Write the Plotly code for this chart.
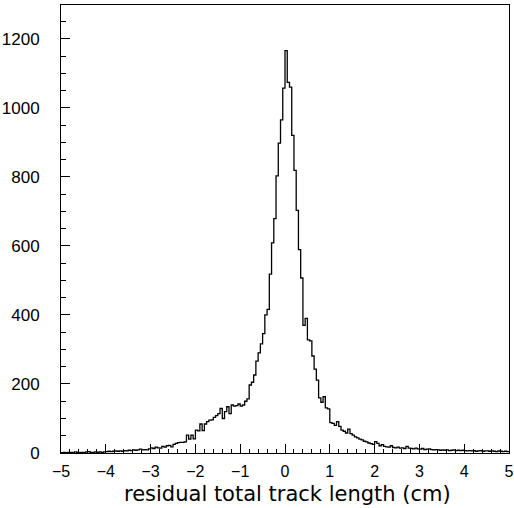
import numpy as np
import plotly.graph_objects as go

# Histogram: 200 bins of width 0.05 from -5 to 5
x_min = -5.0
bin_width = 0.05

counts_left_tail = [  # bins starting -5.00 ... -2.65
    1, 2, 1, 2, 2, 1, 3, 2, 1, 2,
    2, 3, 4, 2, 2, 3, 2, 3, 2, 3,
    4, 5, 4, 5, 6, 5, 6, 5, 7, 6,
    8, 7, 9, 8, 9, 11, 9, 10, 9, 12,
    15, 13, 17, 15, 14, 19, 17, 21,
]
counts_core = [  # bins starting -2.60 ... 0.95
    22, 18, 25, 28, 30, 31, 31, 32, 52, 40,
    52, 41, 66, 64, 84, 65, 84, 91, 95, 96,
    103, 108, 114, 129, 100, 120, 134, 114, 139, 136,
    137, 142, 136, 139, 150, 157,
    197, 205, 226, 266, 290, 316, 346, 400, 416, 518,
    609, 679, 803, 898, 965, 1057, 1166, 1074, 1060, 920,
    819, 703, 589, 507, 370, 390, 328, 325, 281, 243,
    211, 160, 147, 163, 131, 128,
]
counts_right_tail = [  # bins starting 1.00 ... 4.95
    88, 86, 80, 91, 77, 66, 63, 58, 69, 56,
    52, 47, 44, 40, 38, 34, 32, 29, 27, 25,
    33, 28, 21, 24, 19, 18, 17, 21, 16, 15,
    17, 14, 15, 13, 19, 14, 13, 12, 14, 12,
    11, 13, 10, 11, 12, 10, 9, 10, 9, 8,
    9, 8, 9, 7, 8, 9, 7, 8, 7, 8,
    7, 6, 7, 6, 7, 5, 6, 7, 5, 6,
    6, 5, 6, 5, 4, 6, 5, 4, 5, 4,
]
counts = counts_left_tail + counts_core + counts_right_tail

x_tick_vals = [-5, -4, -3, -2, -1, 0, 1, 2, 3, 4, 5]
x_tick_text = ["\u22125", "\u22124", "\u22123", "\u22122", "\u22121", "0", "1", "2", "3", "4", "5"]
y_tick_vals = [0, 200, 400, 600, 800, 1000, 1200]
x_title = "residual total track length (cm)"

edges = x_min + bin_width * np.arange(len(counts) + 1)
y_step = counts + [counts[-1]]

fig = go.Figure()
fig.add_trace(go.Scatter(
    x=edges, y=y_step, mode="lines", line_shape="hv",
    line=dict(color="black", width=1.3), showlegend=False, hoverinfo="skip",
))

font_family = "Liberation Sans, Arial, sans-serif"
fig.update_layout(
    width=514, height=508,
    margin=dict(l=61, r=5, t=5, b=55, autoexpand=False),
    paper_bgcolor="white", plot_bgcolor="white",
    font=dict(family=font_family, color="black"),
    xaxis=dict(
        range=[-5, 5], tickmode="array", tickvals=x_tick_vals, ticktext=x_tick_text,
        ticks="inside", ticklen=9, tickwidth=1, tickcolor="black",
        minor=dict(dtick=0.2, ticks="inside", ticklen=4.5, tickcolor="black", tickwidth=1),
        showline=True, linecolor="black", linewidth=1, mirror=True,
        showgrid=False, zeroline=False, automargin=False,
        tickfont=dict(size=16, family=font_family),
        ticklabelstandoff=4,
    ),
    yaxis=dict(
        range=[0, 1298], tickmode="array", tickvals=y_tick_vals,
        ticks="inside", ticklen=9, tickwidth=1, tickcolor="black",
        minor=dict(dtick=50, ticks="inside", ticklen=4.5, tickcolor="black", tickwidth=1),
        showline=True, linecolor="black", linewidth=1, mirror=True,
        showgrid=False, zeroline=False, automargin=False,
        tickfont=dict(size=17, family=font_family),
        ticklabelstandoff=17,
    ),
    annotations=[dict(
        text=x_title, xref="paper", yref="paper", x=0.505, y=-0.0915,
        xanchor="center", yanchor="middle", showarrow=False,
        font=dict(size=21, family="DejaVu Sans, sans-serif", color="black"),
    )],
)

fig.write_html(
    "out.html",
    config={"displayModeBar": False},
    post_script="document.body.style.margin='0';document.body.style.overflow='hidden';",
)
